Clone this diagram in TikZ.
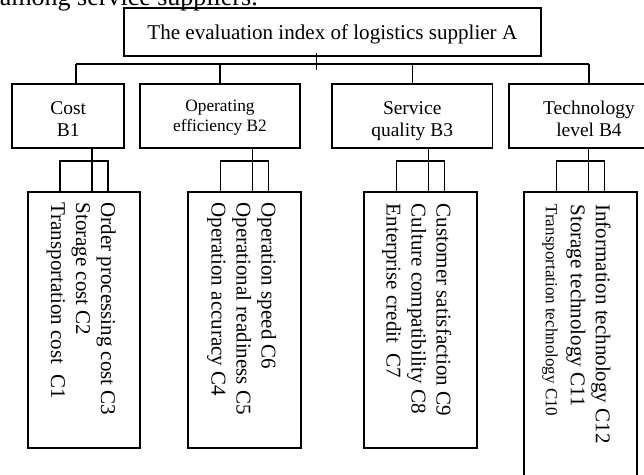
\documentclass[tikz,border=0pt]{standalone}
\usepackage{fontspec}
\setmainfont{Liberation Serif}
\begin{document}
\begin{tikzpicture}[x=0.75pt, y=-0.75pt, line join=miter,
    box/.style={draw, line width=1.3pt, inner sep=0pt, align=center},
    bbox/.style={box, minimum width=120.5pt, minimum height=47.8pt, font=\fontsize{14.6}{16.8}\selectfont},
    cbox/.style={draw, line width=1.3pt, inner sep=0pt, minimum width=84.4pt, minimum height=192.2pt},
    ctext/.style={rotate=-90, anchor=north west, inner sep=0pt, align=left, font=\fontsize{15.75}{18.75}\selectfont},
    link/.style={line width=1pt}]
  \useasboundingbox (0,0) rectangle (644,475);

  % line of text cut off at the top
  \node[anchor=base east, inner sep=0pt, font=\fontsize{19.5}{22}\selectfont] (cut) at (258,5) {among service suppliers.};

  % goal
  \node[box, minimum width=312.5pt, minimum height=35.8pt, text height=10.5pt, text depth=0pt, font=\fontsize{15.8}{18}\selectfont] (A) at (332.3,32.2) {The evaluation index of logistics supplier A};

  % criteria
  \node[bbox, minimum width=84pt] (B1) at (68.3,115.9) {\rule{0pt}{14.4pt}Cost\\B1};
  \node[bbox, font=\fontsize{13}{14.6}\selectfont] (B2) at (220,115.9) {\rule{0pt}{11pt}Operating\\efficiency B2};
  \node[bbox] (B3) at (412.2,115.9) {\rule{0pt}{17.6pt}Service\\quality B3};
  \node[bbox] (B4) at (589,115.9) {\rule{0pt}{14.4pt}Technology\\level B4};

  % sub-criteria boxes
  \node[cbox] (C1) at (83.9,319.9) {};
  \node[cbox] (C2) at (244.4,319.9) {};
  \node[cbox] (C3) at (420.5,319.9) {};
  \node[cbox, minimum height=246.2pt] (C4) at (580.4,355.9) {};

  % sub-criteria texts
  \node[ctext] (T1) at ([xshift=-18.75pt, yshift=-8.5pt]C1.north east) {Order processing cost C3\\Storage cost C2\\Transportation cost \ C1};
  \node[ctext] (T2) at ([xshift=-18.75pt, yshift=-8.5pt]C2.north east) {Operation speed C6\\Operational readiness C5\\Operation accuracy C4};
  \node[ctext] (T3) at ([xshift=-19.5pt, yshift=-9.5pt]C3.north east) {Customer satisfaction C9\\Culture compatibility C8\\Enterprise credit \ C7};
  \node[ctext] (T4) at ([xshift=-20pt, yshift=-10pt]C4.north east) {Information technology C12\\Storage technology C11\\{\fontsize{12.75}{15}\selectfont Transportation technology C10}};

  % bar under the goal
  \coordinate (barL) at (76,64);
  \coordinate (barR) at (589,64);
  \coordinate (tickT) at (316.7,53);
  \coordinate (tickB) at (316.7,70);
  \draw[line width=1.4pt] (barL) -- (barR);
  \draw[link] (tickT) -- (tickB);
  \draw[link] (barL) -- (barL |- B1.north);
  \foreach \b in {B2,B3,B4}
    \draw[link] (\b.north |- barL) -- (\b.north);

  % links to the sub-criteria
  \foreach \c/\b in {C1/B1,C2/B2,C3/B3,C4/B4} {
    \draw[link] ([xshift=6pt]\c.north) -- ([xshift=6pt]\c.north |- \b.south);
    \draw[link] ([xshift=-18pt]\c.north) -- ++(0,-30) -- ++(48,0) -- ++(0,30);
  }
\end{tikzpicture}
\end{document}
